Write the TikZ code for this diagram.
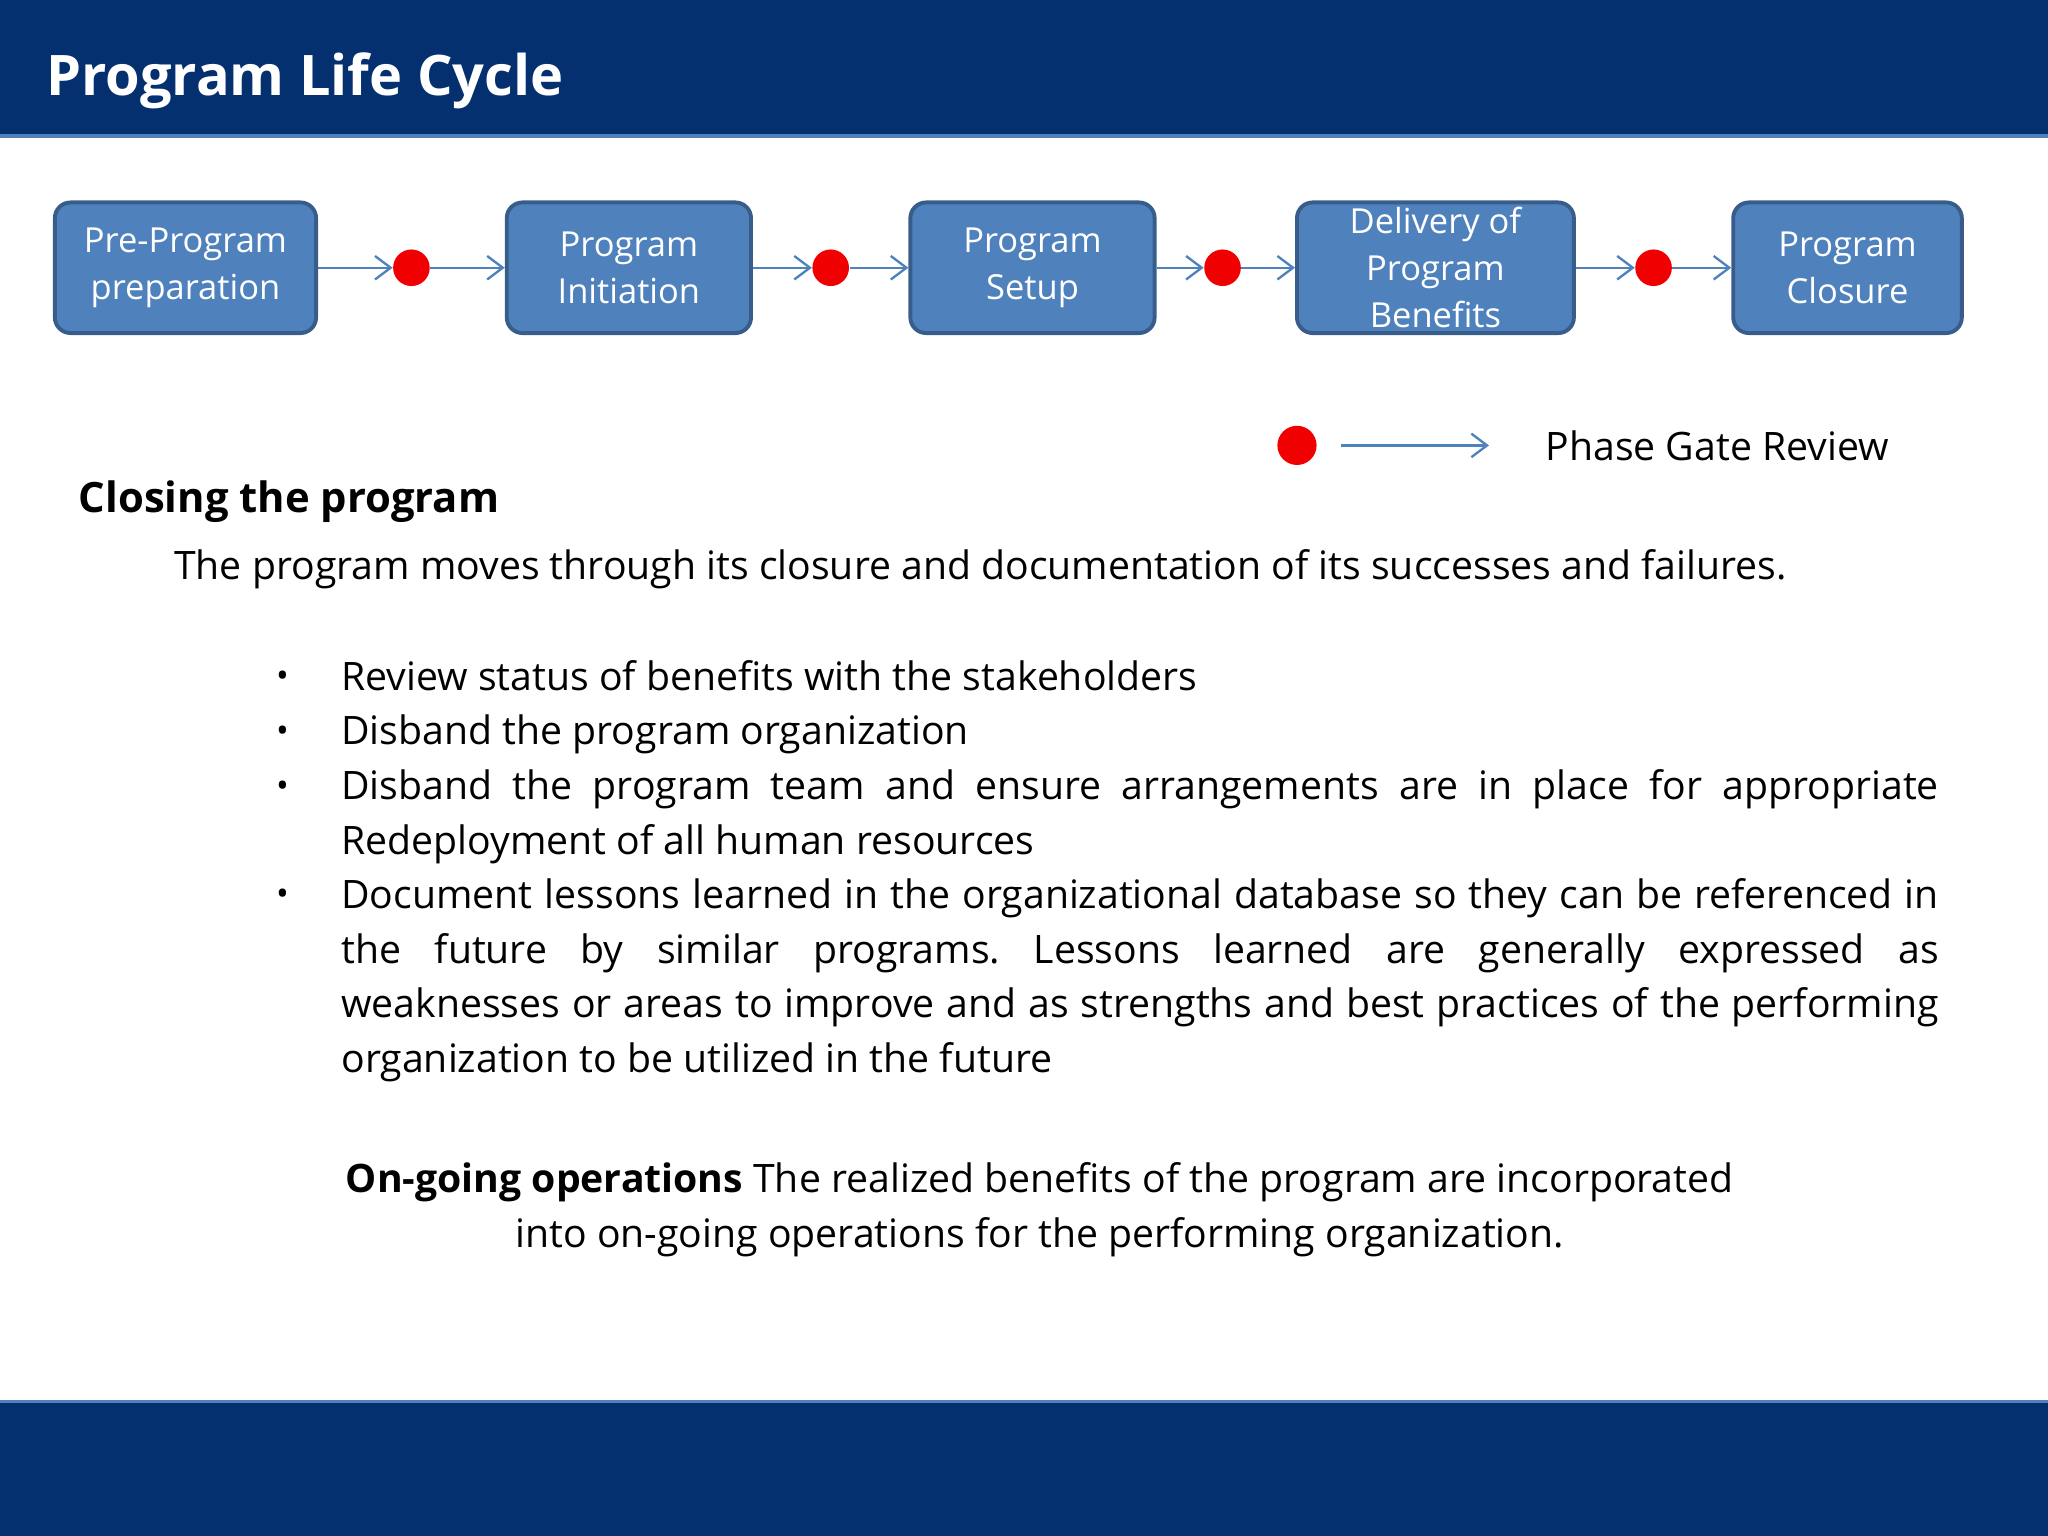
\documentclass[tikz,border=0pt]{standalone}
\usepackage{fontspec}
\setmainfont{Open Sans}
\usetikzlibrary{arrows.meta}
\definecolor{navy}{HTML}{053070}
\definecolor{boxblue}{HTML}{4F81BD}
\definecolor{boxedge}{HTML}{385D8A}
\definecolor{gate}{HTML}{F00000}
\tikzset{
 phase/.style={draw=boxedge,line width=1.5pt,fill=boxblue,rounded corners=6pt,text=white,align=center,font=\fontsize{13.2}{18}\selectfont,minimum height=50pt,inner sep=0pt},
 gatedot/.style={circle,fill=gate,minimum size=14pt,inner sep=0pt},
 flow/.style={draw=boxblue,line width=0.9pt,-{Straight Barb[length=6pt,width=9pt]}},
 body/.style={anchor=west,font=\fontsize{15}{21}\selectfont,inner sep=0pt},
 bul/.style={anchor=north west,font=\fontsize{15}{21}\selectfont,inner sep=0pt,text width=611.5pt,align=justify}
}
\begin{document}
\frenchspacing
\begin{tikzpicture}[x=0.5pt,y=-0.5pt]
\useasboundingbox (0,0) rectangle (1568,1176);
\fill[navy] (0,0) rectangle (1568,105);
\draw[boxblue,line width=1.5pt] (0,104) -- (1568,104);
\fill[navy] (0,1072) rectangle (1568,1176);
\draw[boxblue,line width=1.5pt] (0,1073) -- (1568,1073);
\node[anchor=west,text=white,font=\bfseries\fontsize{21.4}{28}\selectfont,inner sep=0pt] (title) at (35,62) {Program Life Cycle};

\node[phase,minimum width=100pt] (p1) at (142,205) {Pre-Program\\preparation};
\node[phase,minimum width=93.5pt] (p2) at (481.5,205) {Program\\Initiation};
\node[phase,minimum width=93.5pt] (p3) at (790.5,205) {Program\\Setup};
\node[phase,minimum width=106pt] (p4) at (1099,205) {Delivery of\\Program\\Benefits};
\node[phase,minimum width=87.5pt] (p5) at (1414.5,205) {Program\\Closure};
\node[gatedot] (g1) at (315,205) {};
\node[gatedot] (g2) at (636,205) {};
\node[gatedot] (g3) at (936,205) {};
\node[gatedot] (g4) at (1266,205) {};
\draw[flow] (p1) -- (g1); \draw[flow] (g1) -- (p2);
\draw[flow] (p2) -- (g2); \draw[flow] (g2) -- (p3);
\draw[flow] (p3) -- (g3); \draw[flow] (g3) -- (p4);
\draw[flow] (p4) -- (g4); \draw[flow] (g4) -- (p5);

\node[gatedot,minimum size=15pt] (lg) at (993,341) {};
\coordinate (la) at (1027,341);
\coordinate (lb) at (1140,341);
\draw[flow] (la) -- (lb);
\node[body] (lt) at (1183,341) {Phase Gate Review};

\node[body,font=\bfseries\fontsize{16}{21}\selectfont] (h) at (60,384) {Closing the program};
\node[body] (intro) at (133,436) {The program moves through its closure and documentation of its successes and failures.};

\foreach \y in {520,562,604,687} \node[body,font=\fontsize{13}{14}\selectfont] at (211,\y) {•};
\node[bul] (b1) at (261,505) {Review status of benefits with the stakeholders};
\node[bul] (b2) at (261,547) {Disband the program organization};
\node[bul] (b3) at (261,589) {Disband the program team and ensure arrangements are in place for appropriate\linebreak Redeployment of all human resources};
\node[bul] (b4) at (261,672) {Document lessons learned in the organizational database so they can be referenced in\linebreak the future by similar programs. Lessons learned are generally expressed as\linebreak weaknesses or areas to improve and as strengths and best practices of the performing\linebreak organization to be utilized in the future};

\node[font=\fontsize{15}{21}\selectfont,align=center,inner sep=0pt] (og) at (796,926) {\textbf{On-going operations} The realized benefits of the program are incorporated\\into on-going operations for the performing organization.};
\end{tikzpicture}
\end{document}
